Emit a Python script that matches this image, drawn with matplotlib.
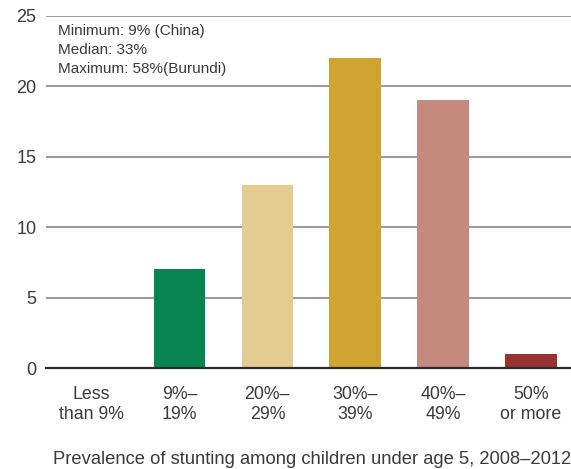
import matplotlib
matplotlib.use("Agg")
import matplotlib.pyplot as plt

categories = ["Less\nthan 9%", "9%–\n19%", "20%–\n29%", "30%–\n39%", "40%–\n49%", "50%\nor more"]
counts = [0, 7, 13, 22, 19, 1]
colors = ["#ffffff", "#088451", "#e3cb92", "#d0a431", "#c38a7d", "#993233"]
yticks = [0, 5, 10, 15, 20, 25]
notes = ["Minimum: 9% (China)", "Median: 33%", "Maximum: 58%(Burundi)"]
xlabel = "Prevalence of stunting among children under age 5, 2008–2012"

plt.rcParams["font.family"] = ["Liberation Sans", "DejaVu Sans"]
text_color = "#3a3a3a"

fig = plt.figure(figsize=(5.71, 4.69), dpi=100)
ax = fig.add_axes([46 / 571, 1 - 368 / 469, 1 - 46 / 571, (368 - 16) / 469])

x = list(range(len(categories)))
ax.bar(x, counts, width=0.59, color=colors, zorder=3)

ax.set_ylim(0, 25)
ax.set_xlim(-0.52, 5.455)
ax.set_yticks(yticks)
ax.yaxis.grid(True, color="#919191", linewidth=1.3, zorder=1)
ax.axhline(0, color="#2b2b2b", linewidth=1.6, zorder=4, clip_on=False)
for s in ax.spines.values():
    s.set_visible(False)
ax.tick_params(axis="y", length=0, pad=7, labelsize=13, labelcolor=text_color)
ax.tick_params(axis="x", length=0, pad=13, labelsize=12.8, labelcolor=text_color)
ax.set_xticks(x)
ax.set_xticklabels(categories, linespacing=1.2)

for i, t in enumerate(notes):
    fig.text(58 / 571, 1 - (31 + i * 19) / 469, t, fontsize=11, color=text_color, va="center", ha="left")

fig.text(312 / 571, 1 - 459 / 469, xlabel, fontsize=13.2, color=text_color, ha="center", va="center")

fig.savefig("out.png", dpi=100)
